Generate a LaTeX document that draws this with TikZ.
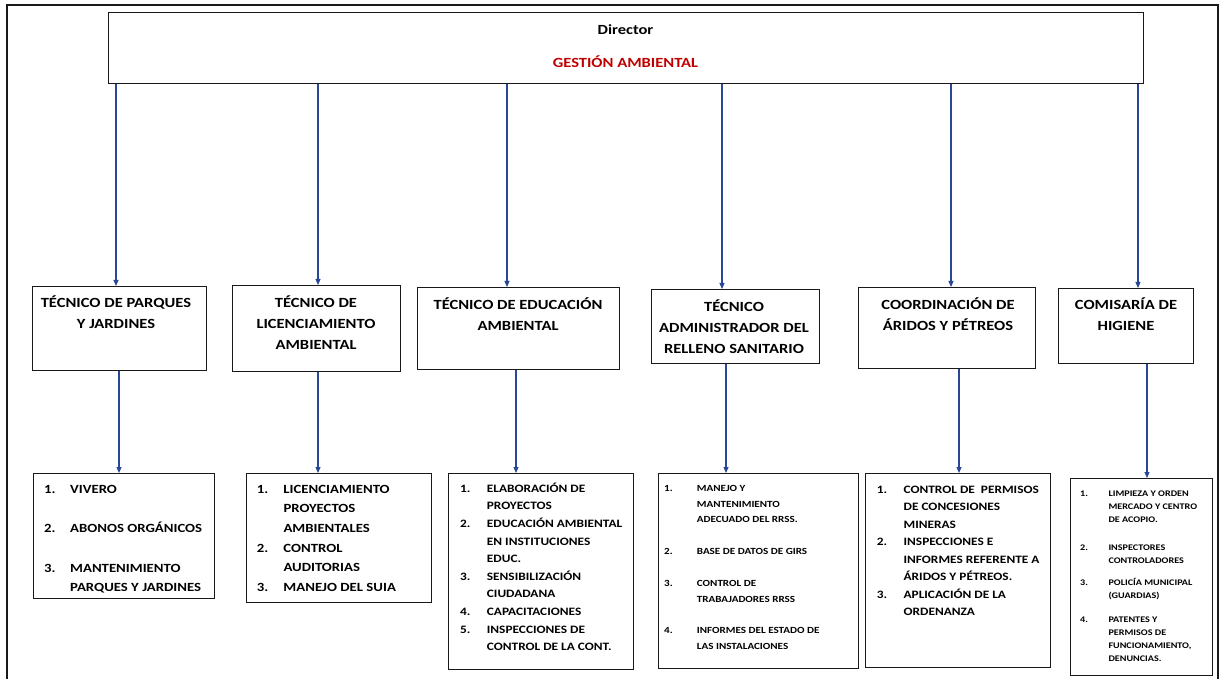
\documentclass[tikz,border=0pt]{standalone}
\usepackage{fontspec}
\setmainfont{Carlito}[FakeStretch=1.18]
\usetikzlibrary{arrows.meta}

\definecolor{conn}{RGB}{40,72,150}
\definecolor{gared}{RGB}{192,0,0}
\definecolor{edge}{RGB}{25,25,25}

\tikzset{
  box/.style={draw=edge, line width=1.4pt, rectangle, inner sep=0pt, anchor=north west},
  link/.style={draw=conn, line width=1.1pt, -{Triangle[length=6pt,width=5pt]}},
  role/.style={font=\bfseries\fontsize{14}{21}\selectfont, anchor=north, inner sep=0pt},
  tasks/.style={anchor=north west, inner sep=0pt},
}

\begin{document}
\begin{tikzpicture}[x=1pt,y=-1pt]
\useasboundingbox (0,0) rectangle (1219,679);

% outer frame (open at the bottom)
\draw[edge, line width=2pt] (6.5,679) -- (6.5,5.5) -- (1217.5,5.5) -- (1217.5,679);

% head of the department
\node[box, minimum width=1035pt, minimum height=71pt] (director) at (108,12) {};
\node[anchor=base, inner sep=0pt, font=\bfseries\fontsize{14}{17}\selectfont] (dtitle) at (625.5,34.5) {Director};
\node[anchor=base, inner sep=0pt, font=\bfseries\fontsize{14}{17}\selectfont, text=gared] (dname) at (625.5,67.5) {GESTIÓN AMBIENTAL};

% second level: technical roles
\node[box, minimum width=174pt, minimum height=84pt] (t1) at (32,286) {};
\node[box, minimum width=168pt, minimum height=86pt] (t2) at (232,285) {};
\node[box, minimum width=202pt, minimum height=82pt] (t3) at (417,287) {};
\node[box, minimum width=168pt, minimum height=74pt] (t4) at (651,289) {};
\node[box, minimum width=177pt, minimum height=81pt] (t5) at (858,287) {};
\node[box, minimum width=135pt, minimum height=75pt] (t6) at (1058,288) {};

\node[role] (r1) at (116,292.8) {\begin{tabular}{@{}c@{}}TÉCNICO DE PARQUES\\Y JARDINES\end{tabular}};
\node[role] (r2) at (316,292.8) {\begin{tabular}{@{}c@{}}TÉCNICO DE\\LICENCIAMIENTO\\AMBIENTAL\end{tabular}};
\node[role] (r3) at (518,294.8) {\begin{tabular}{@{}c@{}}TÉCNICO DE EDUCACIÓN\\AMBIENTAL\end{tabular}};
\node[role] (r4) at (734,296.8) {\begin{tabular}{@{}c@{}}TÉCNICO\\ADMINISTRADOR DEL\\RELLENO SANITARIO\end{tabular}};
\node[role] (r5) at (948,294.8) {\begin{tabular}{@{}c@{}}COORDINACIÓN DE\\ÁRIDOS Y PÉTREOS\end{tabular}};
\node[role] (r6) at (1126,294.8) {\begin{tabular}{@{}c@{}}COMISARÍA DE\\HIGIENE\end{tabular}};

% third level: task lists
\node[box, minimum width=181pt, minimum height=125pt] (l1) at (33,473) {};
\node[box, minimum width=185pt, minimum height=129pt] (l2) at (246,473) {};
\node[box, minimum width=185pt, minimum height=196pt] (l3) at (448,473) {};
\node[box, minimum width=200pt, minimum height=195pt] (l4) at (658,473) {};
\node[box, minimum width=185pt, minimum height=194pt] (l5) at (865,473) {};
\node[box, minimum width=142pt, minimum height=197pt] (l6) at (1070,478) {};

\node[tasks, font=\bfseries\fontsize{12.5}{19.7}\selectfont] (k1) at (44,479.2) {%
\begin{tabular}{@{}p{26pt}@{}l@{}}
1. & VIVERO\\[19.5pt]
2. & ABONOS ORGÁNICOS\\[20pt]
3. & MANTENIMIENTO\\
   & PARQUES Y JARDINES
\end{tabular}};

\node[tasks, font=\bfseries\fontsize{12.5}{19.7}\selectfont] (k2) at (256.7,479.2) {%
\begin{tabular}{@{}p{26.6pt}@{}l@{}}
1. & LICENCIAMIENTO\\
   & PROYECTOS\\
   & AMBIENTALES\\
2. & CONTROL\\
   & AUDITORIAS\\
3. & MANEJO DEL SUIA
\end{tabular}};

\node[tasks, font=\bfseries\fontsize{11.3}{17.6}\selectfont] (k3) at (460,479.8) {%
\begin{tabular}{@{}p{26.7pt}@{}l@{}}
1. & ELABORACIÓN DE\\
   & PROYECTOS\\
2. & EDUCACIÓN AMBIENTAL\\
   & EN INSTITUCIONES\\
   & EDUC.\\
3. & SENSIBILIZACIÓN\\
   & CIUDADANA\\
4. & CAPACITACIONES\\
5. & INSPECCIONES DE\\
   & CONTROL DE LA CONT.
\end{tabular}};

\node[tasks, font=\bfseries\fontsize{9.4}{15.5}\selectfont] (k4) at (664,480.5) {%
\begin{tabular}{@{}p{32.7pt}@{}l@{}}
1. & MANEJO Y\\
   & MANTENIMIENTO\\
   & ADECUADO DEL RRSS.\\[16.5pt]
2. & BASE DE DATOS DE GIRS\\[16.5pt]
3. & CONTROL DE\\
   & TRABAJADORES RRSS\\[16pt]
4. & INFORMES DEL ESTADO DE\\
   & LAS INSTALACIONES
\end{tabular}};

\node[tasks, font=\bfseries\fontsize{11.3}{17.5}\selectfont] (k5) at (876.7,480.9) {%
\begin{tabular}{@{}p{26.7pt}@{}l@{}}
1. & CONTROL DE~~PERMISOS\\
   & DE CONCESIONES\\
   & MINERAS\\
2. & INSPECCIONES E\\
   & INFORMES REFERENTE A\\
   & ÁRIDOS Y PÉTREOS.\\
3. & APLICACIÓN DE LA\\
   & ORDENANZA
\end{tabular}};

\node[tasks, font=\bfseries\fontsize{8.6}{13}\selectfont] (k6) at (1080,487) {%
\begin{tabular}{@{}p{28.3pt}@{}l@{}}
1. & LIMPIEZA Y ORDEN\\
   & MERCADO Y CENTRO\\
   & DE ACOPIO.\\[15pt]
2. & INSPECTORES\\
   & CONTROLADORES\\[9pt]
3. & POLICÍA MUNICIPAL\\
   & (GUARDIAS)\\[11pt]
4. & PATENTES Y\\
   & PERMISOS DE\\
   & FUNCIONAMIENTO,\\
   & DENUNCIAS.
\end{tabular}};

% connector columns
\coordinate (a1) at (116,0);
\coordinate (a2) at (318,0);
\coordinate (a3) at (507,0);
\coordinate (a4) at (722,0);
\coordinate (a5) at (951,0);
\coordinate (a6) at (1138,0);
\coordinate (b1) at (119,0);
\coordinate (b2) at (318,0);
\coordinate (b3) at (516,0);
\coordinate (b4) at (726,0);
\coordinate (b5) at (959,0);
\coordinate (b6) at (1147,0);

% director to roles
\draw[link] (director.south -| a1) -- (t1.north -| a1);
\draw[link] (director.south -| a2) -- (t2.north -| a2);
\draw[link] (director.south -| a3) -- (t3.north -| a3);
\draw[link] (director.south -| a4) -- (t4.north -| a4);
\draw[link] (director.south -| a5) -- (t5.north -| a5);
\draw[link] (director.south -| a6) -- (t6.north -| a6);

% roles to task lists
\draw[link] (t1.south -| b1) -- (l1.north -| b1);
\draw[link] (t2.south -| b2) -- (l2.north -| b2);
\draw[link] (t3.south -| b3) -- (l3.north -| b3);
\draw[link] (t4.south -| b4) -- (l4.north -| b4);
\draw[link] (t5.south -| b5) -- (l5.north -| b5);
\draw[link] (t6.south -| b6) -- (l6.north -| b6);
\end{tikzpicture}
\end{document}
